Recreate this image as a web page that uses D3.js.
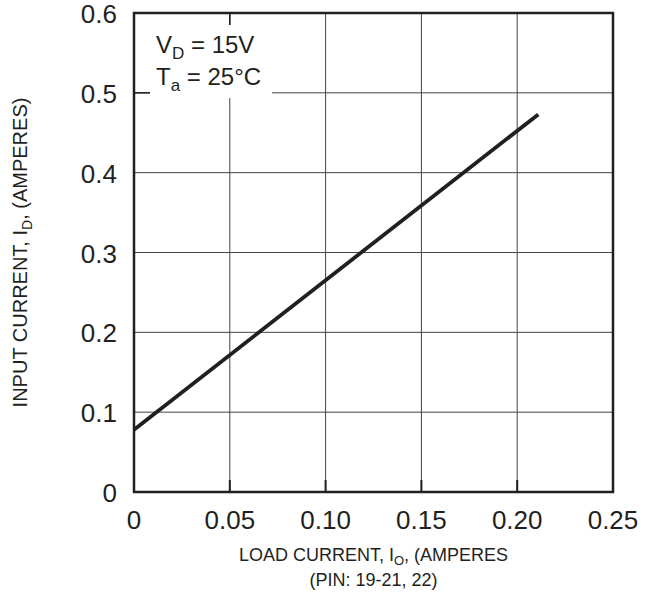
<!DOCTYPE html>
<html>
<head>
<meta charset="utf-8">
<script src="https://cdn.jsdelivr.net/npm/d3@7"></script>
<style>
body { margin: 0; background: #fff; }
text { font-family: "Liberation Sans", Arial, sans-serif; fill: #231f20; }
</style>
</head>
<body>
<div id="chart"></div>
<script>
var width = 648, height = 592;
var margin = {top: 13, right: 35, bottom: 100, left: 134};

// data
var loadCurrent = [0, 0.211];
var inputCurrent = [0.078, 0.473];
var xTicks = [0, 0.05, 0.10, 0.15, 0.20, 0.25];
var yTicks = [0, 0.1, 0.2, 0.3, 0.4, 0.5, 0.6];
var xTickLabels = ["0", "0.05", "0.10", "0.15", "0.20", "0.25"];
var yTickLabels = ["0", "0.1", "0.2", "0.3", "0.4", "0.5", "0.6"];

var svg = d3.select("#chart")
    .append("svg")
    .attr("width", width)
    .attr("height", height);

var x = d3.scaleLinear().domain([0, 0.25]).range([margin.left, width - margin.right]);
var y = d3.scaleLinear().domain([0, 0.6]).range([height - margin.bottom, margin.top]);

var g = svg.append("g");

// grid
g.selectAll(".vgrid")
    .data(xTicks.slice(1, -1))
  .enter().append("line")
    .attr("x1", function(d) { return x(d); })
    .attr("x2", function(d) { return x(d); })
    .attr("y1", y(0))
    .attr("y2", y(0.6))
    .attr("stroke", "#444")
    .attr("stroke-width", 1);

g.selectAll(".hgrid")
    .data(yTicks.slice(1, -1))
  .enter().append("line")
    .attr("x1", x(0))
    .attr("x2", x(0.25))
    .attr("y1", function(d) { return y(d); })
    .attr("y2", function(d) { return y(d); })
    .attr("stroke", "#444")
    .attr("stroke-width", 1);

// small inward ticks along bottom
g.selectAll(".btick")
    .data(xTicks.slice(1, -1))
  .enter().append("line")
    .attr("x1", function(d) { return x(d); })
    .attr("x2", function(d) { return x(d); })
    .attr("y1", y(0))
    .attr("y2", y(0) - 12)
    .attr("stroke", "#231f20")
    .attr("stroke-width", 2);

// legend box blanks out grid
g.append("rect")
    .attr("x", x(0) + 16)
    .attr("y", y(0.6) + 12)
    .attr("width", 122)
    .attr("height", 73)
    .attr("fill", "#fff");

// short ticks that remain visible next to the box
g.append("line")
    .attr("x1", x(0)).attr("x2", x(0) + 16)
    .attr("y1", y(0.5)).attr("y2", y(0.5))
    .attr("stroke", "#231f20").attr("stroke-width", 1.5);
g.append("line")
    .attr("x1", x(0.05)).attr("x2", x(0.05))
    .attr("y1", y(0.6)).attr("y2", y(0.6) + 12)
    .attr("stroke", "#231f20").attr("stroke-width", 1.5);

// frame
g.append("rect")
    .attr("x", x(0))
    .attr("y", y(0.6))
    .attr("width", x(0.25) - x(0))
    .attr("height", y(0) - y(0.6))
    .attr("fill", "none")
    .attr("stroke", "#231f20")
    .attr("stroke-width", 2.5);

// data line
var line = d3.line()
    .x(function(d, i) { return x(loadCurrent[i]); })
    .y(function(d) { return y(d); });

g.append("path")
    .datum(inputCurrent)
    .attr("d", line)
    .attr("fill", "none")
    .attr("stroke", "#231f20")
    .attr("stroke-width", 3.8);

// tick labels
g.selectAll(".xlabel")
    .data(xTicks)
  .enter().append("text")
    .attr("x", function(d) { return x(d); })
    .attr("y", y(0) + 37)
    .attr("text-anchor", "middle")
    .attr("font-size", 26)
    .text(function(d, i) { return xTickLabels[i]; });

g.selectAll(".ylabel")
    .data(yTicks)
  .enter().append("text")
    .attr("x", x(0) - 17)
    .attr("y", function(d) { return y(d) + 10; })
    .attr("text-anchor", "end")
    .attr("font-size", 26)
    .text(function(d, i) { return yTickLabels[i]; });

// legend text
var l1 = g.append("text").attr("x", x(0) + 22).attr("y", y(0.6) + 40).attr("font-size", 24);
l1.append("tspan").text("V");
l1.append("tspan").attr("dy", 6).attr("font-size", 17).text("D");
l1.append("tspan").attr("dy", -6).text(" = 15V");

var l2 = g.append("text").attr("x", x(0) + 22).attr("y", y(0.6) + 72).attr("font-size", 24);
l2.append("tspan").text("T");
l2.append("tspan").attr("dy", 6).attr("font-size", 17).text("a");
l2.append("tspan").attr("dy", -6).text(" = 25°C");

// x axis title
var cx = (x(0) + x(0.25)) / 2;
var xt = g.append("text").attr("x", cx).attr("y", y(0) + 69)
    .attr("text-anchor", "middle").attr("font-size", 18);
xt.append("tspan").text("LOAD CURRENT, I");
xt.append("tspan").attr("dy", 4).attr("font-size", 13).text("O");
xt.append("tspan").attr("dy", -4).text(", (AMPERES");
g.append("text").attr("x", cx).attr("y", y(0) + 94)
    .attr("text-anchor", "middle").attr("font-size", 18)
    .text("(PIN: 19-21, 22)");

// y axis title
var cy = (y(0) + y(0.6)) / 2;
var yt = g.append("text")
    .attr("transform", "translate(27," + cy + ") rotate(-90)")
    .attr("text-anchor", "middle").attr("font-size", 20);
yt.append("tspan").text("INPUT CURRENT, I");
yt.append("tspan").attr("dy", 5).attr("font-size", 14).text("D");
yt.append("tspan").attr("dy", -5).text(", (AMPERES)");
</script>
</body>
</html>
